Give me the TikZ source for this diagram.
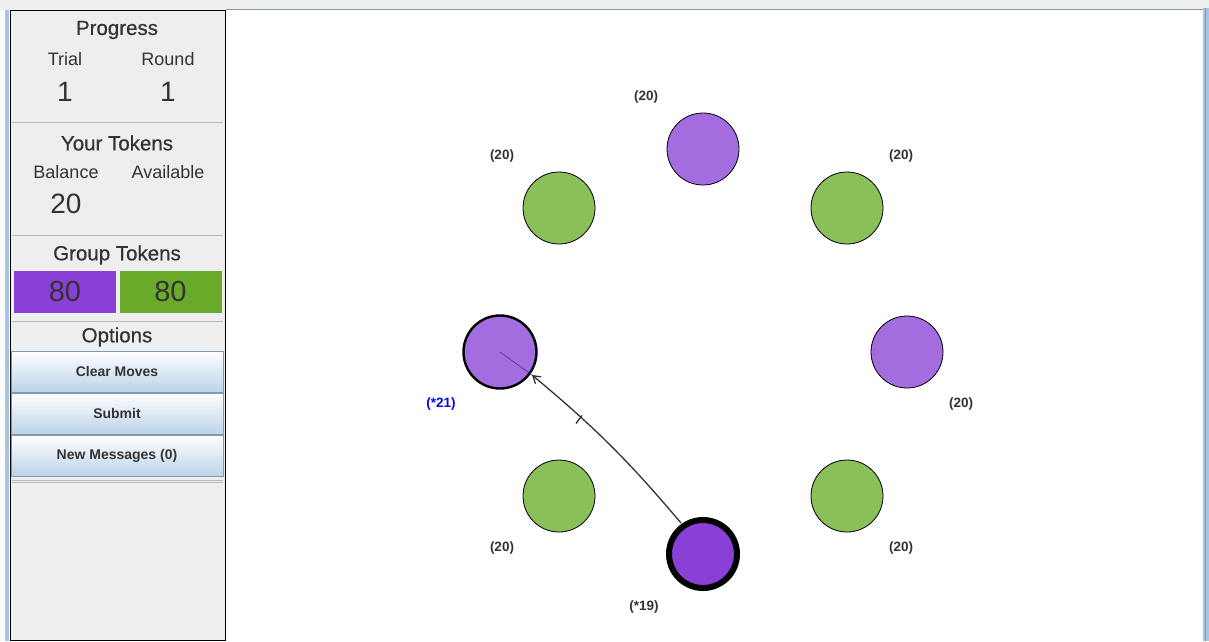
\documentclass[tikz,border=0pt]{standalone}
\usepackage{fontspec}
\setmainfont{Liberation Sans}
\newfontfamily\headfont[FakeBold=0.6]{Liberation Sans}
\usetikzlibrary{arrows.meta}
\definecolor{panelbg}{HTML}{EEEEEE}
\definecolor{lightpurple}{HTML}{A36DE0}
\definecolor{darkpurple}{HTML}{8A3FD6}
\definecolor{leafgreen}{HTML}{8BBF5A}
\definecolor{grpgreen}{HTML}{6AAA2A}
\definecolor{txtgray}{HTML}{333333}
\definecolor{btnblue}{HTML}{BCD3E8}
\definecolor{btnedge}{HTML}{8098B0}
\definecolor{sepgray}{HTML}{B8B8B8}
\definecolor{edgeblue}{HTML}{A8C4E0}
\begin{document}
\begin{tikzpicture}[x=1pt,y=-1pt,
  heading/.style={font=\headfont\fontsize{20.5}{22}\selectfont, text=txtgray},
  sublabel/.style={font=\fontsize{18}{20}\selectfont, text=txtgray},
  bignum/.style={font=\fontsize{28}{30}\selectfont, text=txtgray},
  btn/.style={draw=btnedge, top color=white, bottom color=btnblue, minimum width=212pt, minimum height=41pt, inner sep=0pt, font=\bfseries\fontsize{14}{16}\selectfont, text=txtgray},
  sep/.style={draw=sepgray, line width=1pt},
  token/.style={circle, draw=black, line width=0.8pt, minimum size=72pt, inner sep=0pt},
  chosen/.style={circle, draw=black, line width=2.4pt, minimum size=73pt, inner sep=0pt},
  mine/.style={circle, draw=black, line width=6pt, minimum size=68pt, inner sep=0pt},
  count/.style={font=\bfseries\fontsize{13.5}{15}\selectfont, text=txtgray},
  grp/.style={minimum width=102pt, minimum height=42pt, inner sep=0pt, font=\fontsize{29}{31}\selectfont, text=txtgray}
]
\useasboundingbox (0,0) rectangle (1209,641);
% background frame
\fill[panelbg] (0,0) rectangle (1209,10);
\fill[white] (226,10) rectangle (1203,641);
\draw[draw=btnedge, line width=0.8pt] (226,9.5) -- (1203,9.5);
\fill[edgeblue] (1203,8) rectangle (1209,641);
\draw[draw=btnedge, line width=1pt] (1205,8) -- (1205,641);
\fill[edgeblue] (5,10) rectangle (9,641);
% left panel
\draw[fill=panelbg, draw=black, line width=1pt] (10,10) rectangle (225,640);
\node[heading] (prog) at (117,30) {Progress};
\node[sublabel] (trial) at (65,59) {Trial};
\node[sublabel] (round) at (168,59) {Round};
\node[bignum] (trialv) at (65,92) {1};
\node[bignum] (roundv) at (168,92) {1};
\draw[sep] (12,122) -- (223,122);
\node[heading] (yt) at (117,143) {Your Tokens};
\node[sublabel] (bal) at (66,172) {Balance};
\node[sublabel] (avail) at (168,172) {Available};
\node[bignum] (balv) at (66,204) {20};
\draw[sep] (12,235) -- (223,235);
\node[heading] (gt) at (117,255) {Group Tokens};
\node[grp, fill=darkpurple] (gp) at (65,292) {80};
\node[grp, fill=grpgreen] (gg) at (170.5,292) {80};
\draw[sep] (12,321) -- (223,321);
\node[heading] (opt) at (117,337) {Options};
\node[btn] (clear) at (117,371.5) {Clear Moves};
\node[btn] (submit) at (117,413.5) {Submit};
\node[btn] (newmsg) at (117,455.5) {New Messages (0)};
\draw[sep] (12,480) -- (223,480);
\draw[sep] (12,482.5) -- (223,482.5);
% tokens
\node[token, fill=lightpurple] (n) at (703,149) {};
\node[token, fill=leafgreen] (ne) at (847,208) {};
\node[token, fill=lightpurple] (e) at (907,352) {};
\node[token, fill=leafgreen] (se) at (847,496) {};
\node[mine, fill=darkpurple] (s) at (703,554) {};
\node[token, fill=leafgreen] (sw) at (559,496) {};
\node[chosen, fill=lightpurple] (w) at (500,352) {};
\node[token, fill=leafgreen] (nw) at (559,208) {};
% counts
\node[count] (cn) at (646,97) {(20)};
\node[count] (cne) at (901,156) {(20)};
\node[count] (ce) at (961,404) {(20)};
\node[count] (cse) at (901,548) {(20)};
\node[count] (cs) at (644,607) {(*19)};
\node[count] (csw) at (502,548) {(20)};
\node[count, text=blue] (cw) at (441,404) {(*21)};
\node[count] (cnw) at (502,156) {(20)};
% move arrow
\coordinate (tip) at (532,375);
\coordinate (tail) at (681,523);
\draw[draw=darkpurple!60!black, line width=0.6pt] (w.center) -- (tip);
\draw[line width=1.3pt, draw=black!80, -{Straight Barb[length=7pt,width=9pt]}] (tail) to[bend right=5] coordinate[pos=0.71] (mk) (tip);
\draw[line width=1.4pt, draw=black!80] ([shift={(1.5,-1.5)}]mk) -- ([shift={(-4.5,6.5)}]mk);
\end{tikzpicture}
\end{document}
